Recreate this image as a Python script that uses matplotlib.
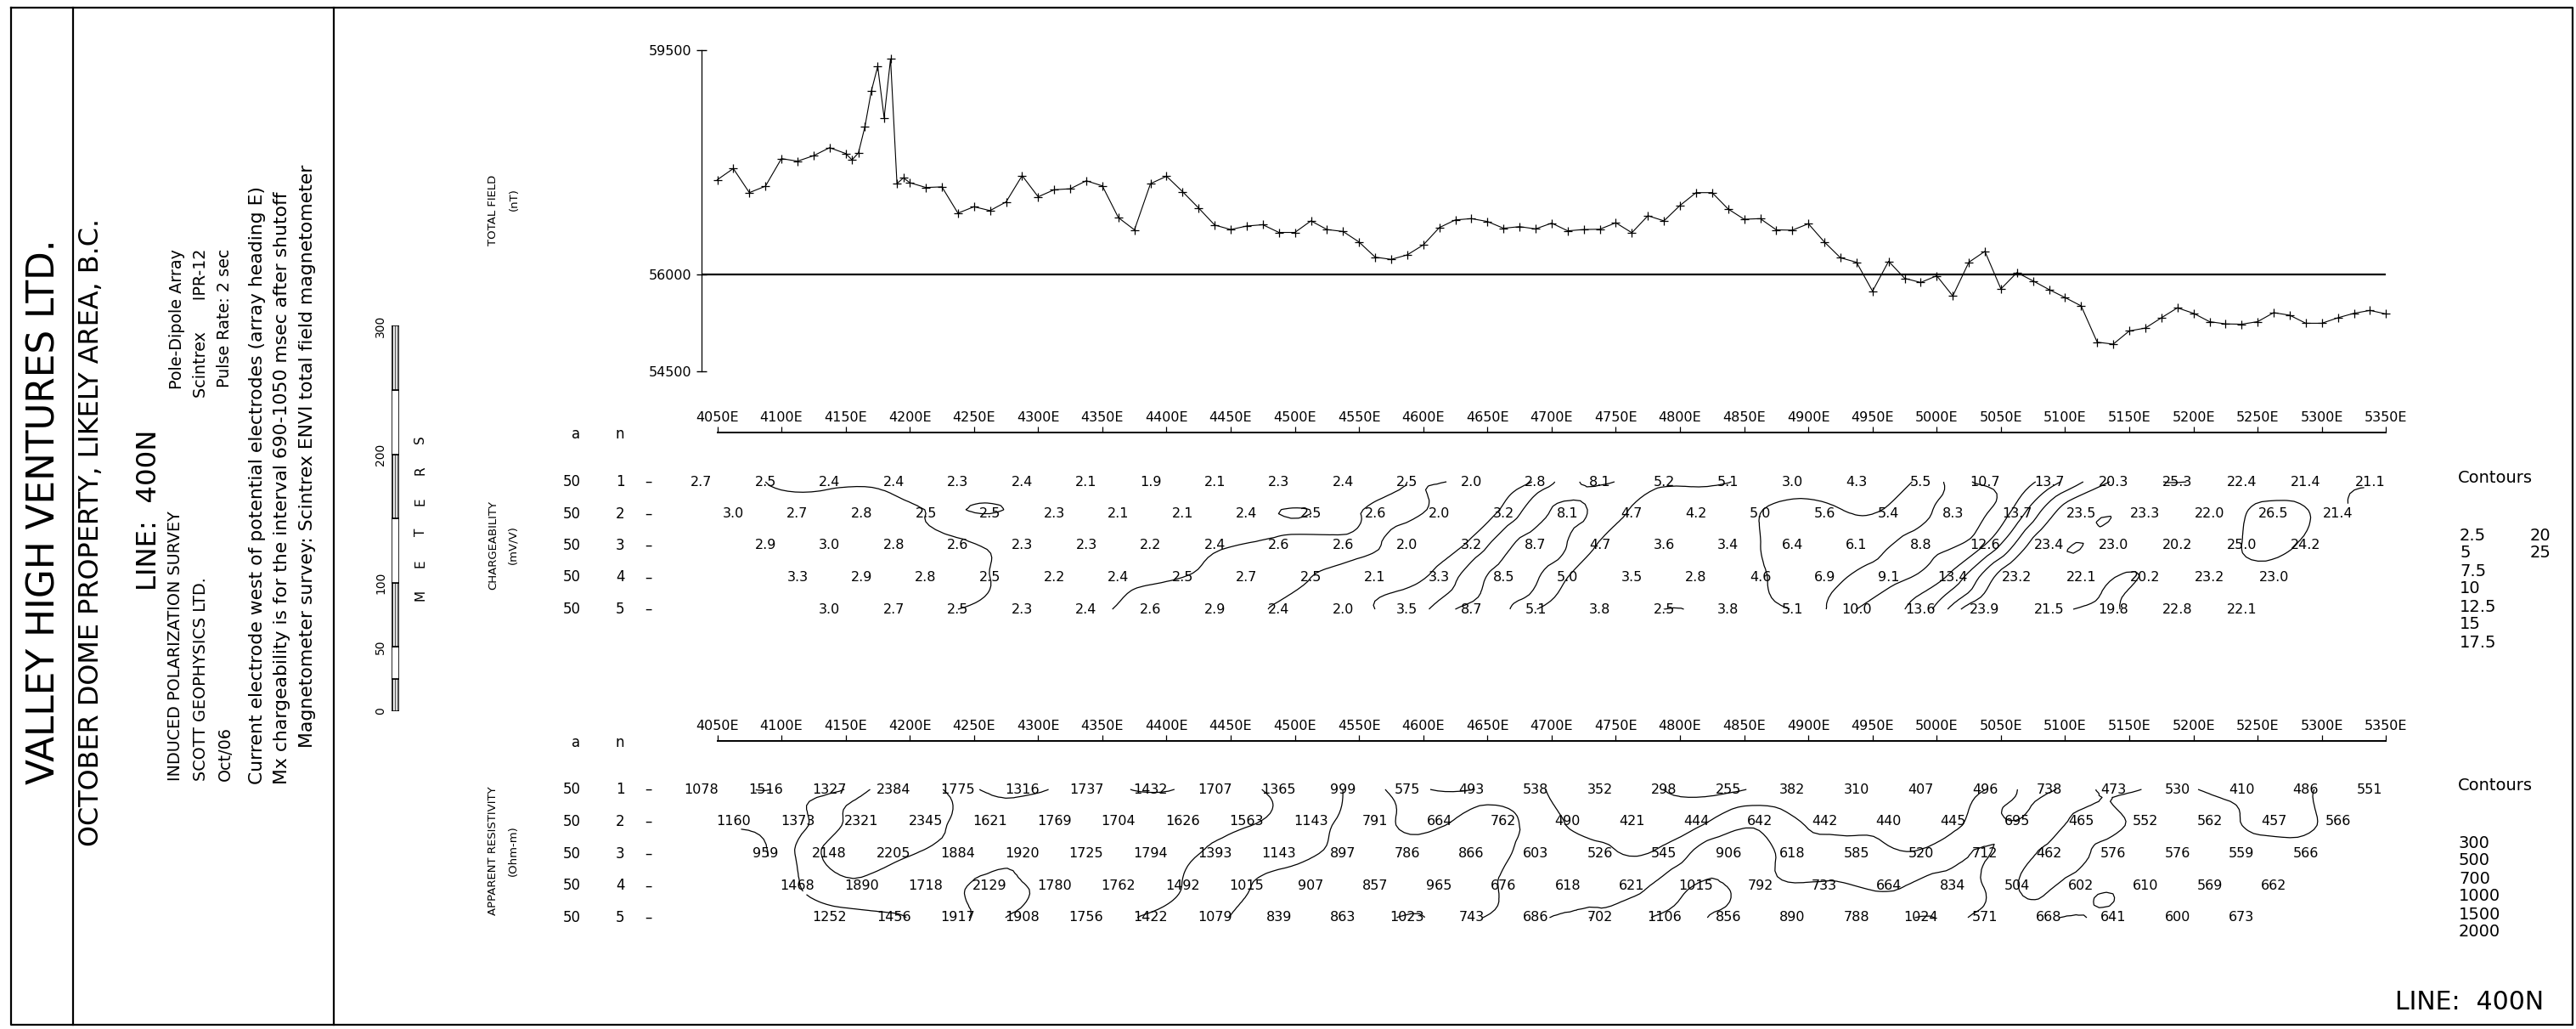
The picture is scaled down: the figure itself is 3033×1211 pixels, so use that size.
import numpy as np
import matplotlib
matplotlib.use("Agg")
import matplotlib.pyplot as plt
import matplotlib.tri as mtri
from matplotlib import transforms

plt.rcParams['font.family'] = ['DejaVu Sans']
plt.rcParams['hatch.linewidth'] = 0.6

# ---- total field magnetics (nT) ----
mag_east = [4050, 4062.5, 4075, 4087.5, 4100, 4112.5, 4125, 4137.5,
            4150, 4155, 4160, 4165, 4170, 4175, 4180, 4185, 4190, 4195, 4200] \
    + list(np.arange(4212.5, 5350.1, 12.5))
mag_nT = [57480, 57655, 57280, 57380, 57810, 57770, 57855, 57980,
          57890, 57790, 57900, 58305, 58860, 59245, 58445, 59365, 57420, 57510, 57435,
          57360, 57370, 56960, 57060, 57000, 57135, 57545, 57215,
          57325, 57340, 57465, 57385, 56890, 56700, 57420, 57535,
          57295, 57040, 56775, 56705, 56760, 56780, 56660, 56660,
          56840, 56705, 56675, 56510, 56275, 56240, 56310, 56465,
          56735, 56855, 56875, 56830, 56725, 56750, 56715, 56805,
          56685, 56705, 56710, 56810, 56655, 56920, 56840, 57080,
          57280, 57280, 57025, 56865, 56875, 56700, 56695, 56795,
          56510, 56265, 56195, 55745, 56210, 55945, 55880, 55985,
          55670, 56195, 56365, 55780, 56035, 55905, 55770, 55645,
          55515, 54950, 54920, 55125, 55170, 55330, 55485, 55400,
          55270, 55235, 55230, 55270, 55410, 55370, 55245, 55245,
          55330, 55400, 55445, 55390]
mag_ticks = [54500, 56000, 59500]
mag_base = 56000

# ---- chargeability (mV/V), one list per n ----
charge_n1 = [2.7, 2.5, 2.4, 2.4, 2.3, 2.4, 2.1, 1.9, 2.1, 2.3, 2.4, 2.5, 2.0, 2.8,
             8.1, 5.2, 5.1, 3.0, 4.3, 5.5, 10.7, 13.7, 20.3, 25.3, 22.4, 21.4, 21.1]
charge_n2 = [3.0, 2.7, 2.8, 2.5, 2.5, 2.3, 2.1, 2.1, 2.4, 2.5, 2.6, 2.0, 3.2,
             8.1, 4.7, 4.2, 5.0, 5.6, 5.4, 8.3, 13.7, 23.5, 23.3, 22.0, 26.5, 21.4]
charge_n3 = [2.9, 3.0, 2.8, 2.6, 2.3, 2.3, 2.2, 2.4, 2.6, 2.6, 2.0, 3.2, 8.7,
             4.7, 3.6, 3.4, 6.4, 6.1, 8.8, 12.6, 23.4, 23.0, 20.2, 25.0, 24.2]
charge_n4 = [3.3, 2.9, 2.8, 2.5, 2.2, 2.4, 2.5, 2.7, 2.5, 2.1, 3.3, 8.5,
             5.0, 3.5, 2.8, 4.6, 6.9, 9.1, 13.4, 23.2, 22.1, 20.2, 23.2, 23.0]
charge_n5 = [3.0, 2.7, 2.5, 2.3, 2.4, 2.6, 2.9, 2.4, 2.0, 3.5, 8.7,
             5.1, 3.8, 2.5, 3.8, 5.1, 10.0, 13.6, 23.9, 21.5, 19.8, 22.8, 22.1]
charge_levels = [2.5, 5, 7.5, 10, 12.5, 15, 17.5, 20, 25]

# ---- apparent resistivity (Ohm-m), one list per n ----
res_n1 = [1078, 1516, 1327, 2384, 1775, 1316, 1737, 1432, 1707, 1365, 999, 575, 493, 538,
          352, 298, 255, 382, 310, 407, 496, 738, 473, 530, 410, 486, 551]
res_n2 = [1160, 1373, 2321, 2345, 1621, 1769, 1704, 1626, 1563, 1143, 791, 664, 762,
          490, 421, 444, 642, 442, 440, 445, 695, 465, 552, 562, 457, 566]
res_n3 = [959, 2148, 2205, 1884, 1920, 1725, 1794, 1393, 1143, 897, 786, 866, 603,
          526, 545, 906, 618, 585, 520, 712, 462, 576, 576, 559, 566]
res_n4 = [1468, 1890, 1718, 2129, 1780, 1762, 1492, 1015, 907, 857, 965, 676,
          618, 621, 1015, 792, 733, 664, 834, 504, 602, 610, 569, 662]
res_n5 = [1252, 1456, 1917, 1908, 1756, 1422, 1079, 839, 863, 1023, 743,
          686, 702, 1106, 856, 890, 788, 1024, 571, 668, 641, 600, 673]
res_levels = [300, 500, 700, 1000, 1500, 2000]

a_spacing = 50
first_current = 4000
station_ticks = list(range(4050, 5351, 50))
scale_marks = [0, 25, 50, 100, 150, 200, 250, 300]
scale_labels = [0, 50, 100, 200, 300]

W, H = 3033, 1211
fig = plt.figure(figsize=(W / 100, H / 100), dpi=100)
renderer = fig.canvas.get_renderer()


def frac(l, t, r, b):
    return [l / W, 1 - b / H, (r - l) / W, (b - t) / H]


# sheet in pixel units for the border, title block and legends
fr = fig.add_axes([0, 0, 1, 1], zorder=0)
fr.set_xlim(0, W)
fr.set_ylim(H, 0)
fr.axis('off')

fr.plot([13, 3029, 3029, 13, 13], [9, 9, 1206, 1206, 9], color='k', lw=1.6)
fr.plot([86, 86], [9, 1206], color='k', lw=1.6)
fr.plot([393, 393], [9, 1206], color='k', lw=1.6)


def vtext(x, y, s, length=None, size=12, ha='left'):
    t = fr.text(x, y, s, rotation=90, rotation_mode='anchor', ha=ha, va='center', fontsize=size)
    if length:
        h = t.get_window_extent(renderer).height
        t.set_fontsize(size * length / h)
    return t.get_fontsize()


vtext(52, 923, 'VALLEY HIGH VENTURES LTD.', 641)
vtext(108, 996, 'OCTOBER DOME PROPERTY, LIKELY AREA, B.C.', 737)
vtext(175, 695, 'LINE:  400N', 189)
fs = vtext(206, 919, 'INDUCED POLARIZATION SURVEY', 317)
vtext(236, 919, 'SCOTT GEOPHYSICS LTD.', size=fs)
vtext(265, 919, 'Oct/06', size=fs)
vtext(208, 293, 'Pole-Dipole Array', size=fs, ha='right')
vtext(237, 293, 'Scintrex      IPR-12', size=fs, ha='right')
vtext(264, 293, 'Pulse Rate: 2 sec', size=fs, ha='right')
fs2 = vtext(303, 923, 'Current electrode west of potential electrodes (array heading E)', 699)
vtext(332, 923, 'Mx chargeability is for the interval 690-1050 msec after shutoff', size=fs2)
vtext(362, 880, 'Magnetometer survey: Scintrex ENVI total field magnetometer', size=fs2)

# scale bar in metres
sb = fig.add_axes(frac(460.7, 383.5, 470, 836.7))
sb.set_xlim(0, 1)
sb.set_ylim(0, 300)
for i in range(len(scale_marks) - 1):
    lo, hi = scale_marks[i], scale_marks[i + 1]
    sb.bar(0.5, hi - lo, bottom=lo, width=1, color='white', edgecolor='black', lw=1.2,
           hatch='||||||' if i % 2 == 0 else None)
for s in sb.spines.values():
    s.set_visible(False)
sb.set_xticks([])
sb.set_yticks(scale_labels)
sb.set_yticklabels([str(v) for v in scale_labels], rotation=90, va='center', fontsize=10)
sb.tick_params(axis='y', length=0, pad=4)
for i, ch in enumerate('METERS'):
    fr.text(495, 700 - 36.6 * i, ch, rotation=90, ha='center', va='center', fontsize=11)

# common easting scale for all profile panels
px_per_m = 1.5114
x4050 = 844.5
L, R = 790, 2860
xlim = (4050 + (L - x4050) / px_per_m, 4050 + (R - x4050) / px_per_m)

# ---- magnetic profile ----
axm = fig.add_axes(frac(L, 59, R, 436.7))
axm.set_xlim(*xlim)
axm.set_ylim(54500, 59500)
axm.patch.set_visible(False)
for s in ['top', 'right', 'bottom']:
    axm.spines[s].set_visible(False)
axm.spines['left'].set_position(('data', 4038))
axm.spines['left'].set_linewidth(0.9)
axm.set_xticks([])
axm.set_yticks(mag_ticks)
axm.set_yticklabels([str(v) for v in mag_ticks], fontsize=11.5)
axm.tick_params(axis='y', direction='inout', length=9, width=1, pad=4)
axm.hlines(mag_base, 4038, mag_east[-1], color='k', lw=1.6)
axm.plot(mag_east, mag_nT, color='k', lw=0.8, marker='+', ms=7, mew=0.9)
fr.text(581, 247, 'TOTAL FIELD', rotation=90, ha='center', va='center', fontsize=9.5)
fr.text(605, 235, '(nT)', rotation=90, ha='center', va='center', fontsize=9.5)


def plot_x(n, k):
    # pole-dipole plotting point between current pole and dipole centre
    return first_current + a_spacing * k + a_spacing * (n + 0.5) / 2


def section(top, row1, dy, rows, levels, fmt, log, name, unit, name_y):
    bottom = top + 260
    ax = fig.add_axes(frac(L, top, R, bottom))
    ax.set_xlim(*xlim)
    ax.set_ylim(1 + (bottom - row1) / dy, 1 + (top - row1) / dy)
    ax.patch.set_visible(False)
    for s in ['left', 'right', 'bottom']:
        ax.spines[s].set_visible(False)
    ax.spines['top'].set_bounds(station_ticks[0], station_ticks[-1])
    ax.spines['top'].set_linewidth(1.4)
    ax.xaxis.set_ticks_position('top')
    ax.set_xticks(station_ticks)
    ax.set_xticklabels(['%dE' % v for v in station_ticks], fontsize=11.5)
    ax.tick_params(axis='x', direction='out', length=5, width=0.9, pad=2.5)
    ax.set_yticks([])

    # a / n columns at the left
    tr = transforms.blended_transform_factory(fr.transData, ax.transData)
    head = 1 + (top + 2 - row1) / dy
    ax.text(678, head, 'a', transform=tr, ha='center', va='center', fontsize=12)
    ax.text(730, head, 'n', transform=tr, ha='center', va='center', fontsize=12)
    xs, ns, vs = [], [], []
    for n, row in enumerate(rows, start=1):
        ax.text(673, n, str(a_spacing), transform=tr, ha='center', va='center', fontsize=12)
        ax.text(730, n, str(n), transform=tr, ha='center', va='center', fontsize=12)
        ax.text(763, n, '–', transform=tr, ha='center', va='center', fontsize=12)
        for k, v in enumerate(row):
            ax.text(plot_x(n, k), n, fmt(v), ha='center', va='center', fontsize=11.5)
            xs.append(plot_x(n, k))
            ns.append(n)
            vs.append(v)

    # lattice triangles between neighbouring rows
    idx = {}
    for i, (x, n) in enumerate(zip(xs, ns)):
        idx[(n, round((x - plot_x(n, 0)) / a_spacing))] = i
    tris = []
    for n in range(1, len(rows)):
        for k in range(len(rows[n - 1]) - 1):
            if (n + 1, k) in idx:
                tris.append([idx[(n, k)], idx[(n, k + 1)], idx[(n + 1, k)]])
            if (n + 1, k + 1) in idx:
                tris.append([idx[(n, k + 1)], idx[(n + 1, k)], idx[(n + 1, k + 1)]])
    xs = np.array(xs, float)
    ns = np.array(ns, float)
    vs = np.array(vs, float)
    lv = np.array(levels, float)
    if log:
        vs = np.log10(vs)
        lv = np.log10(lv)
    row_m = dy / px_per_m
    tri = mtri.Triangulation(xs, ns * row_m, np.array(tris))
    fine, vfine = mtri.UniformTriRefiner(tri).refine_field(vs, subdiv=3)
    fine = mtri.Triangulation(fine.x, fine.y / row_m, fine.triangles)
    ax.tricontour(fine, vfine, levels=lv, colors='black', linewidths=0.9)

    fr.text(581, name_y, name, rotation=90, ha='center', va='center', fontsize=9.5)
    fr.text(604, name_y, unit, rotation=90, ha='center', va='center', fontsize=9.5)
    return ax


section(509, 567, 37.5, [charge_n1, charge_n2, charge_n3, charge_n4, charge_n5],
        charge_levels, lambda v: '%.1f' % v, False, 'CHARGEABILITY', '(mV/V)', 641)
section(872, 929, 37.75, [res_n1, res_n2, res_n3, res_n4, res_n5],
        res_levels, lambda v: '%d' % v, True, 'APPARENT RESISTIVITY', '(Ohm-m)', 1001)

# contour legends
fr.text(2894, 562, 'Contours', va='center', fontsize=14)
for i, v in enumerate(charge_levels):
    fr.text(2896 + 83 * (i // 7), 630 + 21 * (i % 7), '%g' % v, va='center', fontsize=14)
fr.text(2894, 924, 'Contours', va='center', fontsize=14)
for i, v in enumerate(res_levels):
    fr.text(2895, 992 + 21 * i, '%g' % v, va='center', fontsize=14)

fr.text(2820, 1179, 'LINE:  400N', va='center', ha='left', fontsize=21.5)

fig.savefig('out.png', dpi=100, facecolor='white')
